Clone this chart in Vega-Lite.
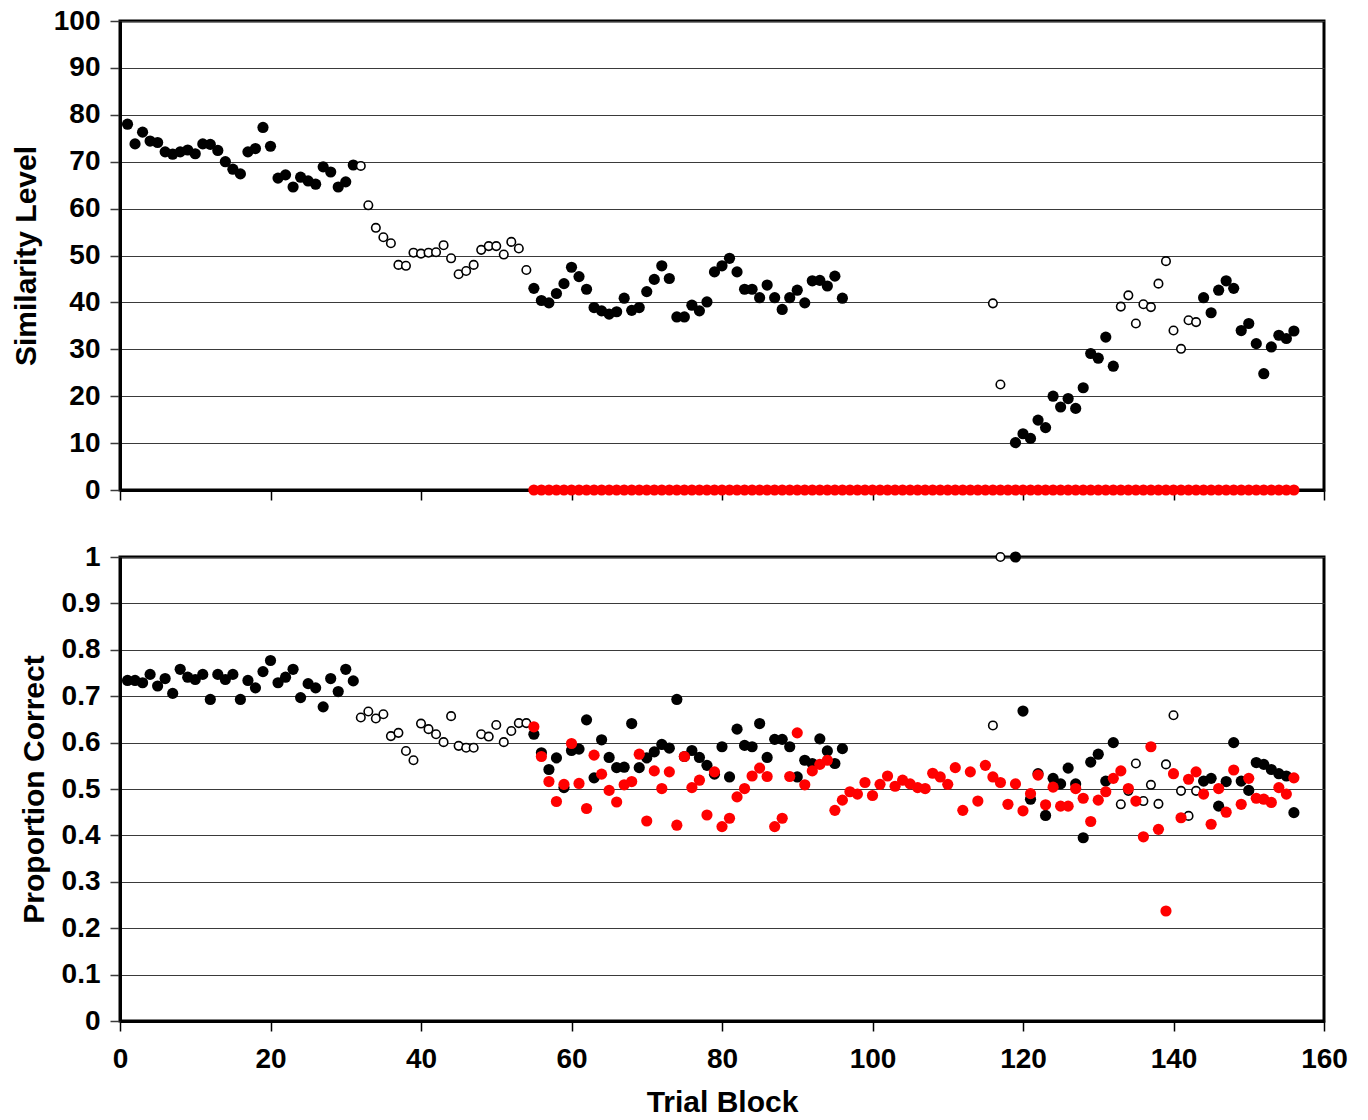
{
  "$schema": "https://vega.github.io/schema/vega-lite/v6.json",
  "padding": {"left": 9, "top": 5, "right": 26, "bottom": 5},
  "bounds": "flush",
  "spacing": 67,
  "background": "white",
  "config": {
    "font": "Liberation Sans",
    "view": {"stroke": "#000", "strokeWidth": 3},
    "axis": {
      "labelFont": "Liberation Sans", "labelFontWeight": "bold", "labelFontSize": 28, "labelColor": "#000",
      "titleFont": "Liberation Sans", "titleFontWeight": "bold", "titleFontSize": 30, "titleColor": "#000",
      "gridColor": "#3a3a3a", "gridWidth": 1.2, "gridOpacity": 1,
      "domainColor": "#000", "domainWidth": 3,
      "tickColor": "#000", "tickSize": 10, "tickWidth": 1.5,
      "labelOverlap": false, "labelFlush": false
    }
  },
  "datasets": {
    "main": [
      {"trial":1,"similarity":78,"proportion":0.734,"marker":"filled"},
      {"trial":2,"similarity":73.8,"proportion":0.734,"marker":"filled"},
      {"trial":3,"similarity":76.3,"proportion":0.729,"marker":"filled"},
      {"trial":4,"similarity":74.4,"proportion":0.747,"marker":"filled"},
      {"trial":5,"similarity":74.1,"proportion":0.722,"marker":"filled"},
      {"trial":6,"similarity":72.1,"proportion":0.738,"marker":"filled"},
      {"trial":7,"similarity":71.6,"proportion":0.706,"marker":"filled"},
      {"trial":8,"similarity":72.1,"proportion":0.758,"marker":"filled"},
      {"trial":9,"similarity":72.5,"proportion":0.741,"marker":"filled"},
      {"trial":10,"similarity":71.7,"proportion":0.736,"marker":"filled"},
      {"trial":11,"similarity":73.8,"proportion":0.747,"marker":"filled"},
      {"trial":12,"similarity":73.7,"proportion":0.693,"marker":"filled"},
      {"trial":13,"similarity":72.4,"proportion":0.747,"marker":"filled"},
      {"trial":14,"similarity":70,"proportion":0.736,"marker":"filled"},
      {"trial":15,"similarity":68.4,"proportion":0.747,"marker":"filled"},
      {"trial":16,"similarity":67.4,"proportion":0.693,"marker":"filled"},
      {"trial":17,"similarity":72.1,"proportion":0.734,"marker":"filled"},
      {"trial":18,"similarity":72.8,"proportion":0.718,"marker":"filled"},
      {"trial":19,"similarity":77.3,"proportion":0.753,"marker":"filled"},
      {"trial":20,"similarity":73.3,"proportion":0.777,"marker":"filled"},
      {"trial":21,"similarity":66.5,"proportion":0.729,"marker":"filled"},
      {"trial":22,"similarity":67.2,"proportion":0.741,"marker":"filled"},
      {"trial":23,"similarity":64.6,"proportion":0.758,"marker":"filled"},
      {"trial":24,"similarity":66.7,"proportion":0.697,"marker":"filled"},
      {"trial":25,"similarity":65.9,"proportion":0.727,"marker":"filled"},
      {"trial":26,"similarity":65.2,"proportion":0.718,"marker":"filled"},
      {"trial":27,"similarity":68.9,"proportion":0.677,"marker":"filled"},
      {"trial":28,"similarity":67.8,"proportion":0.738,"marker":"filled"},
      {"trial":29,"similarity":64.6,"proportion":0.710,"marker":"filled"},
      {"trial":30,"similarity":65.7,"proportion":0.758,"marker":"filled"},
      {"trial":31,"similarity":69.3,"proportion":0.733,"marker":"filled"},
      {"trial":32,"similarity":69.1,"proportion":0.654,"marker":"open"},
      {"trial":33,"similarity":60.7,"proportion":0.667,"marker":"open"},
      {"trial":34,"similarity":55.9,"proportion":0.652,"marker":"open"},
      {"trial":35,"similarity":53.9,"proportion":0.661,"marker":"open"},
      {"trial":36,"similarity":52.6,"proportion":0.614,"marker":"open"},
      {"trial":37,"similarity":48,"proportion":0.621,"marker":"open"},
      {"trial":38,"similarity":47.8,"proportion":0.582,"marker":"open"},
      {"trial":39,"similarity":50.6,"proportion":0.562,"marker":"open"},
      {"trial":40,"similarity":50.4,"proportion":0.641,"marker":"open"},
      {"trial":41,"similarity":50.6,"proportion":0.629,"marker":"open"},
      {"trial":42,"similarity":50.7,"proportion":0.618,"marker":"open"},
      {"trial":43,"similarity":52.2,"proportion":0.601,"marker":"open"},
      {"trial":44,"similarity":49.4,"proportion":0.657,"marker":"open"},
      {"trial":45,"similarity":46,"proportion":0.593,"marker":"open"},
      {"trial":46,"similarity":46.7,"proportion":0.589,"marker":"open"},
      {"trial":47,"similarity":48,"proportion":0.589,"marker":"open"},
      {"trial":48,"similarity":51.2,"proportion":0.618,"marker":"open"},
      {"trial":49,"similarity":52,"proportion":0.613,"marker":"open"},
      {"trial":50,"similarity":52,"proportion":0.638,"marker":"open"},
      {"trial":51,"similarity":50.2,"proportion":0.601,"marker":"open"},
      {"trial":52,"similarity":52.9,"proportion":0.625,"marker":"open"},
      {"trial":53,"similarity":51.5,"proportion":0.642,"marker":"open"},
      {"trial":54,"similarity":46.9,"proportion":0.642,"marker":"open"},
      {"trial":55,"similarity":43,"proportion":0.618,"marker":"filled"},
      {"trial":56,"similarity":40.4,"proportion":0.578,"marker":"filled"},
      {"trial":57,"similarity":39.9,"proportion":0.542,"marker":"filled"},
      {"trial":58,"similarity":41.9,"proportion":0.567,"marker":"filled"},
      {"trial":59,"similarity":44,"proportion":0.503,"marker":"filled"},
      {"trial":60,"similarity":47.5,"proportion":0.583,"marker":"filled"},
      {"trial":61,"similarity":45.5,"proportion":0.586,"marker":"filled"},
      {"trial":62,"similarity":42.8,"proportion":0.649,"marker":"filled"},
      {"trial":63,"similarity":38.9,"proportion":0.524,"marker":"filled"},
      {"trial":64,"similarity":38.2,"proportion":0.606,"marker":"filled"},
      {"trial":65,"similarity":37.5,"proportion":0.568,"marker":"filled"},
      {"trial":66,"similarity":38,"proportion":0.546,"marker":"filled"},
      {"trial":67,"similarity":40.9,"proportion":0.547,"marker":"filled"},
      {"trial":68,"similarity":38.3,"proportion":0.641,"marker":"filled"},
      {"trial":69,"similarity":38.9,"proportion":0.546,"marker":"filled"},
      {"trial":70,"similarity":42.3,"proportion":0.567,"marker":"filled"},
      {"trial":71,"similarity":44.9,"proportion":0.580,"marker":"filled"},
      {"trial":72,"similarity":47.8,"proportion":0.596,"marker":"filled"},
      {"trial":73,"similarity":45.1,"proportion":0.588,"marker":"filled"},
      {"trial":74,"similarity":36.9,"proportion":0.693,"marker":"filled"},
      {"trial":75,"similarity":36.9,"proportion":0.570,"marker":"filled"},
      {"trial":76,"similarity":39.4,"proportion":0.583,"marker":"filled"},
      {"trial":77,"similarity":38.2,"proportion":0.568,"marker":"filled"},
      {"trial":78,"similarity":40.1,"proportion":0.551,"marker":"filled"},
      {"trial":79,"similarity":46.5,"proportion":0.532,"marker":"filled"},
      {"trial":80,"similarity":47.8,"proportion":0.591,"marker":"filled"},
      {"trial":81,"similarity":49.4,"proportion":0.526,"marker":"filled"},
      {"trial":82,"similarity":46.5,"proportion":0.629,"marker":"filled"},
      {"trial":83,"similarity":42.8,"proportion":0.594,"marker":"filled"},
      {"trial":84,"similarity":42.8,"proportion":0.591,"marker":"filled"},
      {"trial":85,"similarity":41,"proportion":0.641,"marker":"filled"},
      {"trial":86,"similarity":43.7,"proportion":0.568,"marker":"filled"},
      {"trial":87,"similarity":41,"proportion":0.607,"marker":"filled"},
      {"trial":88,"similarity":38.5,"proportion":0.607,"marker":"filled"},
      {"trial":89,"similarity":41,"proportion":0.591,"marker":"filled"},
      {"trial":90,"similarity":42.6,"proportion":0.526,"marker":"filled"},
      {"trial":91,"similarity":39.9,"proportion":0.562,"marker":"filled"},
      {"trial":92,"similarity":44.6,"proportion":0.555,"marker":"filled"},
      {"trial":93,"similarity":44.7,"proportion":0.608,"marker":"filled"},
      {"trial":94,"similarity":43.5,"proportion":0.582,"marker":"filled"},
      {"trial":95,"similarity":45.6,"proportion":0.555,"marker":"filled"},
      {"trial":96,"similarity":40.9,"proportion":0.587,"marker":"filled"},
      {"trial":116,"similarity":39.8,"proportion":0.637,"marker":"open"},
      {"trial":117,"similarity":22.5,"proportion":1.0,"marker":"open"},
      {"trial":119,"similarity":10.1,"proportion":1.0,"marker":"filled"},
      {"trial":120,"similarity":12,"proportion":0.668,"marker":"filled"},
      {"trial":121,"similarity":11,"proportion":0.478,"marker":"filled"},
      {"trial":122,"similarity":14.9,"proportion":0.533,"marker":"filled"},
      {"trial":123,"similarity":13.3,"proportion":0.443,"marker":"filled"},
      {"trial":124,"similarity":20,"proportion":0.523,"marker":"filled"},
      {"trial":125,"similarity":17.7,"proportion":0.511,"marker":"filled"},
      {"trial":126,"similarity":19.5,"proportion":0.545,"marker":"filled"},
      {"trial":127,"similarity":17.4,"proportion":0.511,"marker":"filled"},
      {"trial":128,"similarity":21.8,"proportion":0.395,"marker":"filled"},
      {"trial":129,"similarity":29.1,"proportion":0.558,"marker":"filled"},
      {"trial":130,"similarity":28.1,"proportion":0.575,"marker":"filled"},
      {"trial":131,"similarity":32.6,"proportion":0.517,"marker":"filled"},
      {"trial":132,"similarity":26.4,"proportion":0.600,"marker":"filled"},
      {"trial":133,"similarity":39.1,"proportion":0.467,"marker":"open"},
      {"trial":134,"similarity":41.5,"proportion":0.496,"marker":"open"},
      {"trial":135,"similarity":35.5,"proportion":0.555,"marker":"open"},
      {"trial":136,"similarity":39.6,"proportion":0.474,"marker":"open"},
      {"trial":137,"similarity":39,"proportion":0.509,"marker":"open"},
      {"trial":138,"similarity":44,"proportion":0.468,"marker":"open"},
      {"trial":139,"similarity":48.8,"proportion":0.553,"marker":"open"},
      {"trial":140,"similarity":34,"proportion":0.659,"marker":"open"},
      {"trial":141,"similarity":30.1,"proportion":0.496,"marker":"open"},
      {"trial":142,"similarity":36.2,"proportion":0.442,"marker":"open"},
      {"trial":143,"similarity":35.8,"proportion":0.496,"marker":"open"},
      {"trial":144,"similarity":41,"proportion":0.517,"marker":"filled"},
      {"trial":145,"similarity":37.8,"proportion":0.523,"marker":"filled"},
      {"trial":146,"similarity":42.6,"proportion":0.463,"marker":"filled"},
      {"trial":147,"similarity":44.6,"proportion":0.516,"marker":"filled"},
      {"trial":148,"similarity":43,"proportion":0.600,"marker":"filled"},
      {"trial":149,"similarity":34,"proportion":0.517,"marker":"filled"},
      {"trial":150,"similarity":35.5,"proportion":0.497,"marker":"filled"},
      {"trial":151,"similarity":31.2,"proportion":0.557,"marker":"filled"},
      {"trial":152,"similarity":24.8,"proportion":0.553,"marker":"filled"},
      {"trial":153,"similarity":30.5,"proportion":0.542,"marker":"filled"},
      {"trial":154,"similarity":33,"proportion":0.533,"marker":"filled"},
      {"trial":155,"similarity":32.3,"proportion":0.528,"marker":"filled"},
      {"trial":156,"similarity":33.9,"proportion":0.449,"marker":"filled"}
    ],
    "red": [
      {"trial":55,"similarity":0,"proportion":0.634},
      {"trial":56,"similarity":0,"proportion":0.570},
      {"trial":57,"similarity":0,"proportion":0.516},
      {"trial":58,"similarity":0,"proportion":0.473},
      {"trial":59,"similarity":0,"proportion":0.510},
      {"trial":60,"similarity":0,"proportion":0.598},
      {"trial":61,"similarity":0,"proportion":0.512},
      {"trial":62,"similarity":0,"proportion":0.458},
      {"trial":63,"similarity":0,"proportion":0.573},
      {"trial":64,"similarity":0,"proportion":0.532},
      {"trial":65,"similarity":0,"proportion":0.497},
      {"trial":66,"similarity":0,"proportion":0.472},
      {"trial":67,"similarity":0,"proportion":0.509},
      {"trial":68,"similarity":0,"proportion":0.516},
      {"trial":69,"similarity":0,"proportion":0.575},
      {"trial":70,"similarity":0,"proportion":0.431},
      {"trial":71,"similarity":0,"proportion":0.539},
      {"trial":72,"similarity":0,"proportion":0.501},
      {"trial":73,"similarity":0,"proportion":0.537},
      {"trial":74,"similarity":0,"proportion":0.422},
      {"trial":75,"similarity":0,"proportion":0.570},
      {"trial":76,"similarity":0,"proportion":0.503},
      {"trial":77,"similarity":0,"proportion":0.519},
      {"trial":78,"similarity":0,"proportion":0.444},
      {"trial":79,"similarity":0,"proportion":0.537},
      {"trial":80,"similarity":0,"proportion":0.419},
      {"trial":81,"similarity":0,"proportion":0.437},
      {"trial":82,"similarity":0,"proportion":0.483},
      {"trial":83,"similarity":0,"proportion":0.501},
      {"trial":84,"similarity":0,"proportion":0.528},
      {"trial":85,"similarity":0,"proportion":0.545},
      {"trial":86,"similarity":0,"proportion":0.527},
      {"trial":87,"similarity":0,"proportion":0.419},
      {"trial":88,"similarity":0,"proportion":0.437},
      {"trial":89,"similarity":0,"proportion":0.527},
      {"trial":90,"similarity":0,"proportion":0.621},
      {"trial":91,"similarity":0,"proportion":0.509},
      {"trial":92,"similarity":0,"proportion":0.539},
      {"trial":93,"similarity":0,"proportion":0.553},
      {"trial":94,"similarity":0,"proportion":0.562},
      {"trial":95,"similarity":0,"proportion":0.454},
      {"trial":96,"similarity":0,"proportion":0.476},
      {"trial":97,"similarity":0,"proportion":0.494},
      {"trial":98,"similarity":0,"proportion":0.489},
      {"trial":99,"similarity":0,"proportion":0.514},
      {"trial":100,"similarity":0,"proportion":0.486},
      {"trial":101,"similarity":0,"proportion":0.510},
      {"trial":102,"similarity":0,"proportion":0.528},
      {"trial":103,"similarity":0,"proportion":0.506},
      {"trial":104,"similarity":0,"proportion":0.519},
      {"trial":105,"similarity":0,"proportion":0.511},
      {"trial":106,"similarity":0,"proportion":0.503},
      {"trial":107,"similarity":0,"proportion":0.501},
      {"trial":108,"similarity":0,"proportion":0.534},
      {"trial":109,"similarity":0,"proportion":0.526},
      {"trial":110,"similarity":0,"proportion":0.510},
      {"trial":111,"similarity":0,"proportion":0.546},
      {"trial":112,"similarity":0,"proportion":0.454},
      {"trial":113,"similarity":0,"proportion":0.537},
      {"trial":114,"similarity":0,"proportion":0.474},
      {"trial":115,"similarity":0,"proportion":0.551},
      {"trial":116,"similarity":0,"proportion":0.526},
      {"trial":117,"similarity":0,"proportion":0.514},
      {"trial":118,"similarity":0,"proportion":0.467},
      {"trial":119,"similarity":0,"proportion":0.511},
      {"trial":120,"similarity":0,"proportion":0.453},
      {"trial":121,"similarity":0,"proportion":0.490},
      {"trial":122,"similarity":0,"proportion":0.530},
      {"trial":123,"similarity":0,"proportion":0.466},
      {"trial":124,"similarity":0,"proportion":0.504},
      {"trial":125,"similarity":0,"proportion":0.463},
      {"trial":126,"similarity":0,"proportion":0.463},
      {"trial":127,"similarity":0,"proportion":0.501},
      {"trial":128,"similarity":0,"proportion":0.480},
      {"trial":129,"similarity":0,"proportion":0.430},
      {"trial":130,"similarity":0,"proportion":0.476},
      {"trial":131,"similarity":0,"proportion":0.494},
      {"trial":132,"similarity":0,"proportion":0.523},
      {"trial":133,"similarity":0,"proportion":0.539},
      {"trial":134,"similarity":0,"proportion":0.501},
      {"trial":135,"similarity":0,"proportion":0.474},
      {"trial":136,"similarity":0,"proportion":0.397},
      {"trial":137,"similarity":0,"proportion":0.591},
      {"trial":138,"similarity":0,"proportion":0.413},
      {"trial":139,"similarity":0,"proportion":0.237},
      {"trial":140,"similarity":0,"proportion":0.533},
      {"trial":141,"similarity":0,"proportion":0.438},
      {"trial":142,"similarity":0,"proportion":0.521},
      {"trial":143,"similarity":0,"proportion":0.537},
      {"trial":144,"similarity":0,"proportion":0.489},
      {"trial":145,"similarity":0,"proportion":0.424},
      {"trial":146,"similarity":0,"proportion":0.501},
      {"trial":147,"similarity":0,"proportion":0.450},
      {"trial":148,"similarity":0,"proportion":0.541},
      {"trial":149,"similarity":0,"proportion":0.467},
      {"trial":150,"similarity":0,"proportion":0.523},
      {"trial":151,"similarity":0,"proportion":0.480},
      {"trial":152,"similarity":0,"proportion":0.478},
      {"trial":153,"similarity":0,"proportion":0.471},
      {"trial":154,"similarity":0,"proportion":0.503},
      {"trial":155,"similarity":0,"proportion":0.489},
      {"trial":156,"similarity":0,"proportion":0.524}
    ]
  },
  "vconcat": [
    {
      "width": 1204,
      "height": 469,
      "encoding": {
        "x": {"field": "trial", "type": "quantitative", "scale": {"domain": [0, 160], "nice": false},
              "axis": {"values": [0,20,40,60,80,100,120,140,160], "labels": false, "title": null, "grid": false}},
        "y": {"field": "similarity", "type": "quantitative", "scale": {"domain": [0, 100], "nice": false},
              "axis": {"values": [0,10,20,30,40,50,60,70,80,90,100], "title": "Similarity Level", "tickColor": "#3a3a3a", "labelPadding": 10, "titlePadding": 12}}
      },
      "layer": [
        {"data": {"name": "main"}, "transform": [{"filter": "datum.marker == 'filled'"}],
         "mark": {"type": "point", "shape": "circle", "filled": true, "color": "#000", "size": 125, "opacity": 1}},
        {"data": {"name": "main"}, "transform": [{"filter": "datum.marker == 'open'"}],
         "mark": {"type": "point", "shape": "circle", "fill": "#fff", "stroke": "#000", "strokeWidth": 1.6, "size": 72, "opacity": 1, "fillOpacity": 1}},
        {"data": {"name": "red"},
         "mark": {"type": "point", "shape": "circle", "filled": true, "color": "#ff0000", "size": 125, "opacity": 1}}
      ]
    },
    {
      "width": 1204,
      "height": 464,
      "encoding": {
        "x": {"field": "trial", "type": "quantitative", "scale": {"domain": [0, 160], "nice": false},
              "axis": {"values": [0,20,40,60,80,100,120,140,160], "title": "Trial Block", "grid": false, "labelPadding": 14, "titlePadding": 14}},
        "y": {"field": "proportion", "type": "quantitative", "scale": {"domain": [0, 1], "nice": false},
              "axis": {"values": [0,0.1,0.2,0.3,0.4,0.5,0.6,0.7,0.8,0.9,1], "format": ".1~f", "title": "Proportion Correct", "tickColor": "#3a3a3a", "labelPadding": 10, "titlePadding": 12}}
      },
      "layer": [
        {"data": {"name": "main"}, "transform": [{"filter": "datum.marker == 'filled'"}],
         "mark": {"type": "point", "shape": "circle", "filled": true, "color": "#000", "size": 125, "opacity": 1}},
        {"data": {"name": "main"}, "transform": [{"filter": "datum.marker == 'open'"}],
         "mark": {"type": "point", "shape": "circle", "fill": "#fff", "stroke": "#000", "strokeWidth": 1.6, "size": 72, "opacity": 1, "fillOpacity": 1}},
        {"data": {"name": "red"},
         "mark": {"type": "point", "shape": "circle", "filled": true, "color": "#ff0000", "size": 125, "opacity": 1}}
      ]
    }
  ]
}
